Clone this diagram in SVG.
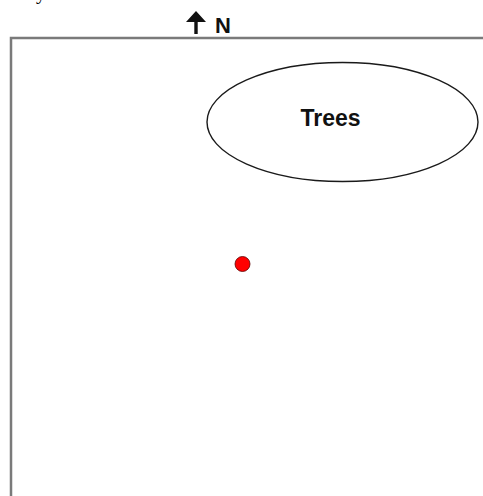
<svg xmlns="http://www.w3.org/2000/svg" width="483" height="496" viewBox="0 0 483 496">
  <style>
    .lbl { font-family: "Liberation Sans", Arial, sans-serif; font-weight: bold; fill: #111; }
    .frame { fill: none; stroke: #7a7a7a; stroke-width: 2.5; }
  </style>
  <rect width="483" height="496" fill="#ffffff"/>
  <text x="36" y="-1" font-family="Liberation Serif, serif" font-size="20" fill="#000">y</text>
  <g id="frame">
    <path class="frame" d="M11,496 V38 H483"/>
  </g>
  <g id="north">
    <path d="M196,11 L186,22 L194.3,22 L194.3,34 L197.7,34 L197.7,22 L206,22 Z" fill="#111"/>
    <text class="lbl" x="215" y="33" font-size="22">N</text>
  </g>
  <g id="trees">
    <ellipse cx="342.5" cy="122" rx="135.5" ry="59.5" fill="none" stroke="#1a1a1a" stroke-width="1.4"/>
    <text class="lbl" x="330.5" y="126" font-size="23" text-anchor="middle">Trees</text>
  </g>
  <g id="dot">
    <circle cx="242.5" cy="264" r="7.5" fill="#ff0000" stroke="#5a0000" stroke-width="0.8"/>
  </g>
</svg>
